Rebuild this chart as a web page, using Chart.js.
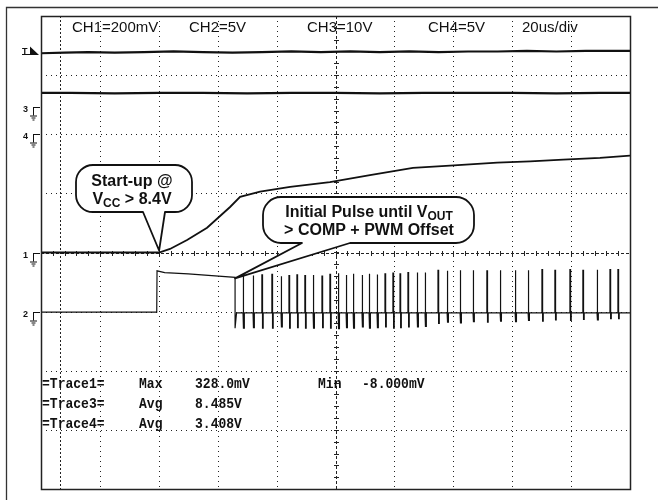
<!DOCTYPE html>
<html><head><meta charset="utf-8">
<script src="https://cdn.jsdelivr.net/npm/chart.js@4.4.1/dist/chart.umd.min.js"></script>
<style>html,body{margin:0;padding:0;background:#fff;}canvas{display:block;}</style>
</head><body>
<canvas id="c" width="658" height="500"></canvas>
<script>
// Horizontal axis: time in microseconds (20 us/div, 10 divisions)
// Vertical axis: screen divisions (8 divisions)
const xGridUs = [0,20,40,60,80,100,120,140,160,180,200];
const yGridDiv = [0,1,2,3,4,5,6,7,8];
const triggerPosUs = 6.45;
const minorTickUs = 4;
const minorTickDiv = 0.2;

const headerLabels = ['CH1=200mV','CH2=5V','CH3=10V','CH4=5V','20us/div'];
const headerLeftPx = [72,189,307,428,522];

const measRows = [
  ['=Trace1=','Max','328.0mV','Min','-8.000mV'],
  ['=Trace3=','Avg','8.485V'],
  ['=Trace4=','Avg','3.408V']
];
const measColPx = [42,139,195,318,362];
const measRowPx = [384,404,424];

// channel ground markers (level in divisions)
const markerLabels = ['3','4','1','2'];
const markerLevels = [6.46,6.0,4.0,3.0];
const triggerMarkerLevel = 7.35;

// Trace A (top flat trace)
const traceATime  = [0,8,16,25,35,45,55,65,75,85,95,105,115,125,135,145,155,165,175,185,195,200];
const traceAValue = [7.37,7.38,7.39,7.38,7.39,7.40,7.39,7.38,7.39,7.40,7.39,7.40,7.39,7.40,7.39,7.40,7.40,7.41,7.40,7.41,7.41,7.41];

// Trace B (second flat trace)
const traceBTime  = [0,10,25,40,55,70,85,100,115,130,145,160,175,190,200];
const traceBValue = [6.70,6.70,6.69,6.70,6.70,6.69,6.70,6.70,6.69,6.70,6.70,6.70,6.69,6.70,6.70];

// Channel 1: flat then rising after start-up
const ch1Time  = [0,40.1,43.8,49.6,56.4,64.2,67.6,74.4,84.6,98.1,111.7,126.3,138.9,154.9,166.1,177.3,189.8,200];
const ch1Value = [4.0,4.0,4.06,4.21,4.42,4.77,4.94,5.03,5.11,5.19,5.31,5.43,5.47,5.52,5.54,5.57,5.60,5.64];

// Channel 2: initial pulse then switching pulses
const ch2HeadTime  = [0,39.3,39.4,42,50,58,65.9,65.9,66.4];
const ch2HeadValue = [2.99,2.99,3.69,3.66,3.64,3.61,3.58,2.72,2.98];
const ch2Baseline = 2.98;
const pulseWidthUs = 0.22;
const pulseTime = [68.6,72.0,75.0,78.4,81.5,84.2,86.9,89.6,92.4,95.4,98.1,100.9,103.6,106.0,109.0,111.4,114.1,116.8,119.5,121.9,124.6,127.7,130.4,
                   134.8,137.9,142.3,146.7,151.4,155.9,161.0,165.4,170.1,174.5,179.6,184.0,188.8,193.2,195.9];
const pulseTop = [3.62,3.61,3.62,3.63,3.60,3.61,3.62,3.61,3.62,3.60,3.63,3.65,3.62,3.64,3.62,3.64,3.63,3.64,3.65,3.64,3.66,3.66,3.66,
                  3.70,3.69,3.70,3.70,3.69,3.70,3.70,3.70,3.71,3.70,3.71,3.70,3.71,3.71,3.71];
const pulseBottom = [2.72,2.73,2.72,2.72,2.74,2.72,2.73,2.72,2.72,2.73,2.72,2.71,2.73,2.72,2.74,2.72,2.73,2.74,2.72,2.73,2.74,2.74,2.75,
                     2.80,2.82,2.81,2.83,2.82,2.84,2.83,2.85,2.84,2.86,2.85,2.87,2.86,2.88,2.88];

function zipXY(xs, ys){ return xs.map((v,i)=>({x:v,y:ys[i]})); }

const ch2Points = zipXY(ch2HeadTime, ch2HeadValue);
pulseTime.forEach((t,i)=>{
  ch2Points.push({x:t,y:ch2Baseline},{x:t,y:pulseTop[i]},{x:t+pulseWidthUs,y:pulseTop[i]},
                 {x:t+pulseWidthUs,y:pulseBottom[i]},{x:t+2*pulseWidthUs,y:pulseBottom[i]},{x:t+2*pulseWidthUs,y:ch2Baseline});
});
ch2Points.push({x:200,y:ch2Baseline});

function seg(ctx,x1,y1,x2,y2){ctx.beginPath();ctx.moveTo(x1,y1);ctx.lineTo(x2,y2);ctx.stroke();}

const scopeGrid = {
  id:'scopeGrid',
  beforeDatasetsDraw(chart){
    const {ctx, chartArea:a, scales:{x,y}} = chart;
    ctx.save();
    ctx.strokeStyle='#222'; ctx.lineWidth=1;
    ctx.setLineDash([1,4]);
    xGridUs.forEach(t=>{ if(t===xGridUs[0]||t===xGridUs[xGridUs.length-1]||t===100) return;
      const px=Math.round(x.getPixelForValue(t))+0.5; seg(ctx,px,a.top,px,a.bottom);});
    yGridDiv.forEach(d=>{ if(d===0||d===8||d===4) return;
      const py=Math.round(y.getPixelForValue(d))+0.5; seg(ctx,a.left,py,a.right,py);});
    // trigger position line
    ctx.setLineDash([2,2]);
    const tp=Math.round(x.getPixelForValue(triggerPosUs))+0.5;
    seg(ctx,tp,a.top,tp,a.bottom);
    // center lines
    ctx.setLineDash([3,2]);
    const cx=Math.round(x.getPixelForValue(100))+0.5, cy=Math.round(y.getPixelForValue(4))+0.5;
    seg(ctx,cx,a.top,cx,a.bottom); seg(ctx,a.left,cy,a.right,cy);
    ctx.setLineDash([]);
    for(let t=xGridUs[0]; t<=200; t+=minorTickUs){ const px=Math.round(x.getPixelForValue(t))+0.5; seg(ctx,px,cy-2.5,px,cy+2.5); }
    for(let d=0; d<=8; d+=minorTickDiv){ const py=Math.round(y.getPixelForValue(d))+0.5; seg(ctx,cx-2.5,py,cx+2.5,py); }
    ctx.restore();
  }
};

function bubble(ctx,x0,y0,x1,y1,r,tA,tB,apx,apy){
  ctx.beginPath();
  ctx.moveTo(x0+r,y0); ctx.lineTo(x1-r,y0); ctx.arcTo(x1,y0,x1,y0+r,r);
  ctx.lineTo(x1,y1-r); ctx.arcTo(x1,y1,x1-r,y1,r);
  ctx.lineTo(tB,y1); ctx.lineTo(apx,apy); ctx.lineTo(tA,y1);
  ctx.lineTo(x0+r,y1); ctx.arcTo(x0,y1,x0,y1-r,r);
  ctx.lineTo(x0,y0+r); ctx.arcTo(x0,y0,x0+r,y0,r); ctx.closePath();
  ctx.fillStyle='#fff'; ctx.fill();
  ctx.strokeStyle='#111'; ctx.lineWidth=1.8; ctx.lineJoin='round'; ctx.stroke();
}
// draw text parts [[text,isSub],...] centered at cx
function richLine(ctx,parts,cx,cy){
  const main='bold 16px "Liberation Sans", Arial, sans-serif', sub='bold 12px "Liberation Sans", Arial, sans-serif';
  let w=0; parts.forEach(p=>{ctx.font=p[1]?sub:main; w+=ctx.measureText(p[0]).width;});
  let xx=cx-w/2; ctx.textAlign='left'; ctx.textBaseline='alphabetic';
  parts.forEach(p=>{ctx.font=p[1]?sub:main; ctx.fillText(p[0],xx,cy+(p[1]?9:5.5)); xx+=ctx.measureText(p[0]).width;});
}

const scopeOverlay = {
  id:'scopeOverlay',
  afterDatasetsDraw(chart){
    const {ctx, chartArea:a, scales:{x,y}} = chart;
    ctx.save();
    // plot frame
    ctx.strokeStyle='#222'; ctx.lineWidth=1.5;
    ctx.strokeRect(a.left+0.5,a.top+0.5,a.right-a.left,a.bottom-a.top);
    // outer frame
    ctx.strokeStyle='#333'; ctx.lineWidth=1.3;
    ctx.beginPath(); ctx.moveTo(6.5,500); ctx.lineTo(6.5,7.5); ctx.lineTo(658,7.5); ctx.stroke();
    // header
    ctx.fillStyle='#111'; ctx.font='15px "Liberation Sans", Arial, sans-serif';
    ctx.textBaseline='middle'; ctx.textAlign='left';
    headerLabels.forEach((s,i)=>ctx.fillText(s,headerLeftPx[i],28));
    // measurements (tall condensed monospace look)
    ctx.font='bold 14px "Liberation Mono", monospace';
    measRows.forEach((row,r)=>row.forEach((s,c)=>{
      ctx.save(); ctx.translate(measColPx[c],measRowPx[r]); ctx.scale(0.93,1); ctx.fillText(s,0,0); ctx.restore();
    }));
    // channel markers
    ctx.strokeStyle='#111'; ctx.lineWidth=1;
    markerLabels.forEach((lab,i)=>{
      const py=Math.round(y.getPixelForValue(markerLevels[i]))+0.5;
      ctx.font='bold 9px "Liberation Sans", Arial, sans-serif'; ctx.textBaseline='top';
      ctx.fillText(lab,23,py-2);
      seg(ctx,33,py,40,py); seg(ctx,33.5,py,33.5,py+8);
      seg(ctx,30,py+8.5,37,py+8.5); seg(ctx,31.5,py+10.5,35.5,py+10.5); seg(ctx,32.5,py+12.5,34.5,py+12.5);
    });
    // trigger marker
    const ty=Math.round(y.getPixelForValue(triggerMarkerLevel))+0.5;
    ctx.font='bold 9px "Liberation Sans", Arial, sans-serif'; ctx.textBaseline='alphabetic';
    ctx.fillText('T',22,ty-1);
    seg(ctx,22,ty,30,ty);
    ctx.beginPath(); ctx.moveTo(30,ty-8); ctx.lineTo(30,ty+0.5); ctx.lineTo(39,ty+0.5); ctx.closePath(); ctx.fill();
    // callouts
    const ap1x=x.getPixelForValue(40.1), ap1y=y.getPixelForValue(4.0)-2;
    bubble(ctx,76,165,192,212,17,143,165,ap1x,ap1y);
    ctx.fillStyle='#111';
    richLine(ctx,[['Start-up @',false]],132,180);
    richLine(ctx,[['V',false],['CC',true],[' > 8.4V',false]],132,198);
    const ap2x=x.getPixelForValue(65.9), ap2y=y.getPixelForValue(3.58)+1;
    bubble(ctx,263,197,474,243,18,302,350,ap2x,ap2y);
    ctx.fillStyle='#111';
    richLine(ctx,[['Initial Pulse until V',false],['OUT',true]],369,211);
    richLine(ctx,[['> COMP + PWM Offset',false]],369,229);
    ctx.restore();
  }
};

const lineStyle = {borderColor:'#111', pointRadius:0, tension:0, fill:false};
new Chart(document.getElementById('c').getContext('2d'), {
  type:'line',
  data:{datasets:[
    {...lineStyle, label:'A', data:zipXY(traceATime,traceAValue), borderWidth:2.2},
    {...lineStyle, label:'B', data:zipXY(traceBTime,traceBValue), borderWidth:2.2},
    {...lineStyle, label:'CH1', data:zipXY(ch1Time,ch1Value), borderWidth:1.8},
    {...lineStyle, label:'CH2', data:ch2Points, borderWidth:1.2}
  ]},
  options:{
    responsive:false, animation:false, devicePixelRatio:1,
    layout:{padding:{left:41,top:16,right:28,bottom:11}},
    scales:{
      x:{type:'linear',min:0,max:200,display:false},
      y:{type:'linear',min:0,max:8,display:false}
    },
    plugins:{legend:{display:false},tooltip:{enabled:false}}
  },
  plugins:[scopeGrid,scopeOverlay]
});
</script>
</body></html>
